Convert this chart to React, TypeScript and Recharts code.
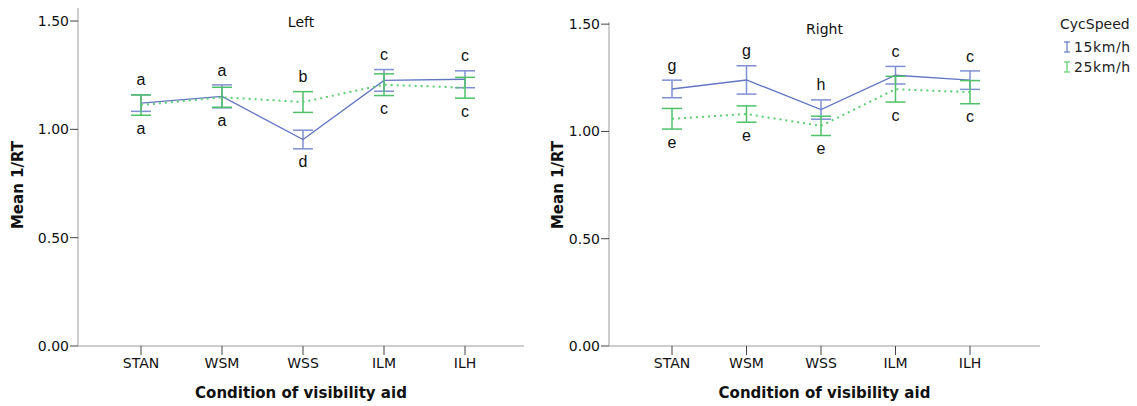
import React from "react";
import { LineChart, Line, XAxis, YAxis, ErrorBar, LabelList, Legend } from "recharts";

// visibility-aid conditions on the x axis
const conditions = ["STAN", "WSM", "WSS", "ILM", "ILH"];

// Left side: mean 1/RT and error half-widths per cycling speed
const leftMean15 = [1.121, 1.152, 0.953, 1.226, 1.231];
const leftErr15 = [0.038, 0.053, 0.043, 0.05, 0.039];
const leftMean25 = [1.112, 1.148, 1.126, 1.206, 1.192];
const leftErr25 = [0.047, 0.046, 0.048, 0.05, 0.048];
const leftGroupsTop = ["a", "a", "b", "c", "c"];
const leftGroupsBottom = ["a", "a", "d", "c", "c"];

// Right side
const rightMean15 = [1.198, 1.24, 1.102, 1.262, 1.239];
const rightErr15 = [0.041, 0.066, 0.045, 0.041, 0.043];
const rightMean25 = [1.059, 1.081, 1.026, 1.197, 1.183];
const rightErr25 = [0.048, 0.038, 0.045, 0.06, 0.054];
const rightGroupsTop = ["g", "g", "h", "c", "c"];
const rightGroupsBottom = ["e", "e", "e", "c", "c"];

const yTicks = [0, 0.5, 1.0, 1.5];
const speeds = ["15km/h", "25km/h"];

const BLUE = "#6276c2";
const BLUE_BAR = "#7f90d2";
const GREEN = "#5ccd72";
const GREEN_BAR = "#4fc168";
const AXIS_GRAY = "#bcbcbc";
const TICK_DARK = "#444";
const TEXT = "#111";
const FONT = "'DejaVu Sans', sans-serif";
const LETTER_FONT = "'Liberation Sans', Arial, sans-serif";

function buildRows(
  m15: number[],
  e15: number[],
  m25: number[],
  e25: number[],
  top: string[],
  bottom: string[]
) {
  return conditions.map((name, i) => ({
    name,
    m15: m15[i],
    e15: e15[i],
    m25: m25[i],
    e25: e25[i],
    hi: Math.max(m15[i] + e15[i], m25[i] + e25[i]),
    lo: Math.min(m15[i] - e15[i], m25[i] - e25[i]),
    top: top[i],
    bottom: bottom[i],
  }));
}

const leftRows = buildRows(leftMean15, leftErr15, leftMean25, leftErr25, leftGroupsTop, leftGroupsBottom);
const rightRows = buildRows(rightMean15, rightErr15, rightMean25, rightErr25, rightGroupsTop, rightGroupsBottom);

const letterAbove = (props: any) => (
  <text x={props.x} y={props.y - 15} dy="0.35em" textAnchor="middle" fontFamily={LETTER_FONT} fontSize={16} fill={TEXT}>
    {props.value}
  </text>
);

const letterBelow = (props: any) => (
  <text x={props.x} y={props.y + 13} dy="0.35em" textAnchor="middle" fontFamily={LETTER_FONT} fontSize={16} fill={TEXT}>
    {props.value}
  </text>
);

function SpeedLegend() {
  const colors = [BLUE, GREEN];
  return (
    <div style={{ fontFamily: FONT, fontSize: 14, color: "#222", lineHeight: "20px" }}>
      <div style={{ marginBottom: 3 }}>CycSpeed</div>
      {speeds.map((s, i) => (
        <div key={s} style={{ display: "flex", alignItems: "center", letterSpacing: 0.6 }}>
          <svg width={10} height={14} style={{ marginLeft: 2, marginRight: 2 }}>
            <line x1={2} y1={2} x2={8} y2={2} stroke={colors[i]} strokeWidth={1.2} />
            <line x1={5} y1={2} x2={5} y2={12} stroke={colors[i]} strokeWidth={1.2} />
            <line x1={2} y1={12} x2={8} y2={12} stroke={colors[i]} strokeWidth={1.2} />
          </svg>
          {s}
        </div>
      ))}
    </div>
  );
}

interface PanelProps {
  title: string;
  rows: ReturnType<typeof buildRows>;
  width: number;
  marginTop: number;
  marginLeft: number;
  marginRight: number;
  yMax: number;
  titleY: number;
  padLeft: number;
  padRight: number;
  showLegend?: boolean;
}

function Panel({
  title,
  rows,
  width,
  marginTop,
  marginLeft,
  marginRight,
  yMax,
  titleY,
  padLeft,
  padRight,
  showLegend,
}: PanelProps) {
  const yAxisWidth = 60;
  const plotLeft = marginLeft + yAxisWidth;
  const plotRight = width - marginRight;
  const plotCenter = (plotLeft + plotRight) / 2;

  return (
    <LineChart width={width} height={406} data={rows} margin={{ top: marginTop, right: marginRight, bottom: 20, left: marginLeft }}>
      <XAxis
        dataKey="name"
        padding={{ left: padLeft, right: padRight }}
        axisLine={{ stroke: AXIS_GRAY, strokeWidth: 1.5 }}
        tickLine={{ stroke: TICK_DARK }}
        tickSize={9}
        tickMargin={3}
        height={40}
        tick={{ fontFamily: FONT, fontSize: 14, fill: TEXT }}
        label={{
          content: () => (
            <text x={plotCenter} y={393} dy="0.35em" textAnchor="middle" fontFamily={FONT} fontSize={15} fontWeight="bold" fill={TEXT}>
              Condition of visibility aid
            </text>
          ),
        }}
      />
      <YAxis
        type="number"
        domain={[0, yMax]}
        ticks={yTicks}
        width={yAxisWidth}
        tickFormatter={(v: number) => v.toFixed(2)}
        axisLine={{ stroke: AXIS_GRAY, strokeWidth: 1.5 }}
        tickLine={{ stroke: TICK_DARK }}
        tickSize={8}
        tickMargin={1}
        tick={{ fontFamily: FONT, fontSize: 14, fill: TEXT }}
        label={{
          content: () => (
            <text
              x={18}
              y={185}
              dy="0.35em"
              textAnchor="middle"
              transform="rotate(-90 18 185)"
              fontFamily={FONT}
              fontSize={15}
              fontWeight="bold"
              fill={TEXT}
            >
              Mean 1/RT
            </text>
          ),
        }}
      />
      <Line dataKey="m15" stroke={BLUE} strokeWidth={1.4} dot={false} activeDot={false} isAnimationActive={false}>
        <ErrorBar dataKey="e15" width={10} stroke={BLUE_BAR} strokeWidth={1.5} />
      </Line>
      <Line
        dataKey="m25"
        stroke={GREEN}
        strokeWidth={2}
        strokeDasharray="2 4"
        dot={false}
        activeDot={false}
        isAnimationActive={false}
      >
        <ErrorBar dataKey="e25" width={10} stroke={GREEN_BAR} strokeWidth={1.5} />
      </Line>
      <Line dataKey="hi" stroke="none" dot={false} activeDot={false} isAnimationActive={false} legendType="none">
        <LabelList dataKey="top" content={letterAbove} />
      </Line>
      <Line dataKey="lo" stroke="none" dot={false} activeDot={false} isAnimationActive={false} legendType="none">
        <LabelList dataKey="bottom" content={letterBelow} />
      </Line>
      <text x={plotCenter} y={titleY} dy="0.35em" textAnchor="middle" fontFamily={FONT} fontSize={14} fill={TEXT}>
        {title}
      </text>
      {showLegend && (
        <Legend
          layout="horizontal"
          align="center"
          verticalAlign="middle"
          wrapperStyle={{ top: 14, left: plotRight + 20, width: 90 }}
          content={() => <SpeedLegend />}
        />
      )}
    </LineChart>
  );
}

export default function App() {
  return (
    <div style={{ position: "absolute", left: 0, top: 0, width: 1137, height: 406, background: "#fff" }}>
      <div style={{ position: "absolute", left: 0, top: 0 }}>
        <Panel
          title="Left"
          rows={leftRows}
          width={560}
          marginTop={8}
          marginLeft={18}
          marginRight={36}
          yMax={1.56}
          titleY={22}
          padLeft={63}
          padRight={59}
        />
      </div>
      <div style={{ position: "absolute", left: 540, top: 0 }}>
        <Panel
          title="Right"
          rows={rightRows}
          width={597}
          marginTop={22}
          marginLeft={9}
          marginRight={97}
          yMax={1.51}
          titleY={29}
          padLeft={63}
          padRight={70}
          showLegend
        />
      </div>
    </div>
  );
}
